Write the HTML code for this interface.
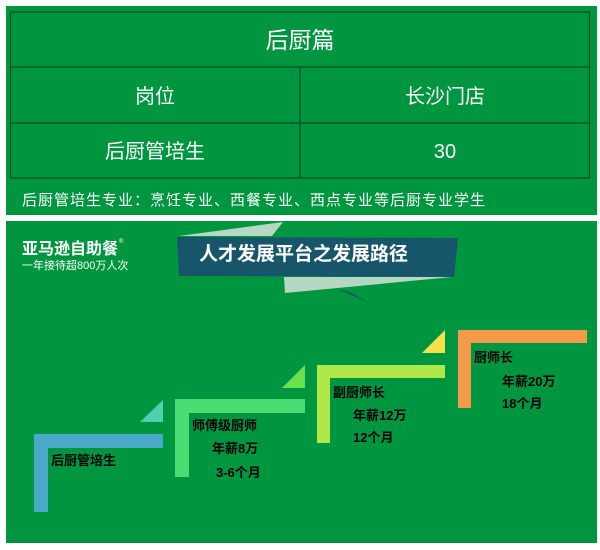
<!DOCTYPE html>
<html><head><meta charset="utf-8"><style>
html,body{margin:0;padding:0;background:#fff;width:600px;height:550px;overflow:hidden}
svg{display:block}
text{font-family:"Liberation Sans","Noto Sans CJK SC",sans-serif}
</style></head><body>
<svg width="600" height="550" viewBox="0 0 600 550">
<rect x="6" y="6" width="591" height="209" fill="#009640"/>
<g stroke="#0b4a22" stroke-width="1.2" fill="none">
<rect x="10.5" y="12" width="579" height="166"/>
<line x1="10.5" y1="67" x2="589.5" y2="67"/>
<line x1="10.5" y1="123" x2="589.5" y2="123"/>
<line x1="300" y1="67" x2="300" y2="178"/>
</g>
<g fill="#fff" text-anchor="middle">
<text x="300" y="48" font-size="23">后厨篇</text>
<text x="155" y="103" font-size="20">岗位</text>
<text x="445" y="103" font-size="20">长沙门店</text>
<text x="155" y="158" font-size="20">后厨管培生</text>
<text x="445" y="158" font-size="20">30</text>
</g>
<text x="22" y="205" font-size="15" fill="#fff" letter-spacing="1">后厨管培生专业：烹饪专业、西餐专业、西点专业等后厨专业学生</text>

<rect x="6" y="221" width="591" height="322" fill="#009640"/>
<polygon points="179,236 283,222 272,236" fill="#b5d8c4"/>
<polygon points="284,277 452,277 285,293" fill="#b5d8c4"/>
<polygon points="338,289 369,303 350,292" fill="#17566a"/>
<polygon points="177,237 458,238 454,277 179,276" fill="#17566a"/>
<text x="199" y="260" font-size="19" font-weight="bold" fill="#fff">人才发展平台之发展路径</text>
<text x="22" y="254" font-size="16" font-weight="bold" fill="#fff">亚马逊自助餐</text>
<text x="119" y="243" font-size="6" fill="#fff">®</text>
<text x="22" y="269" font-size="11" fill="#fff">一年接待超800万人次</text>

<path d="M34,434 H163 V448 H48 V512 H34 Z" fill="#4aa8c8"/>
<polygon points="140,422 163,400 163,422" fill="#4ecfae"/>
<path d="M175,399 H305 V413 H189 V477 H175 Z" fill="#4cdc74"/>
<polygon points="282,388 305,365 305,388" fill="#6ae04a"/>
<path d="M317,365 H445 V378 H330 V443 H317 Z" fill="#b0e84a"/>
<polygon points="422,353 445,330 445,353" fill="#f4e04a"/>
<path d="M458,330 H587 V343 H471 V408 H458 Z" fill="#f49a48"/>

<g font-size="13" font-weight="bold" fill="#000">
<text x="51" y="465">后厨管培生</text>
<text x="192" y="430">师傅级厨师</text>
<text x="212" y="453">年薪8万</text>
<text x="216" y="477">3-6个月</text>
<text x="333" y="397">副厨师长</text>
<text x="353" y="420">年薪12万</text>
<text x="353" y="442">12个月</text>
<text x="474" y="362">厨师长</text>
<text x="502" y="386">年薪20万</text>
<text x="502" y="408">18个月</text>
</g>
</svg>
</body></html>
